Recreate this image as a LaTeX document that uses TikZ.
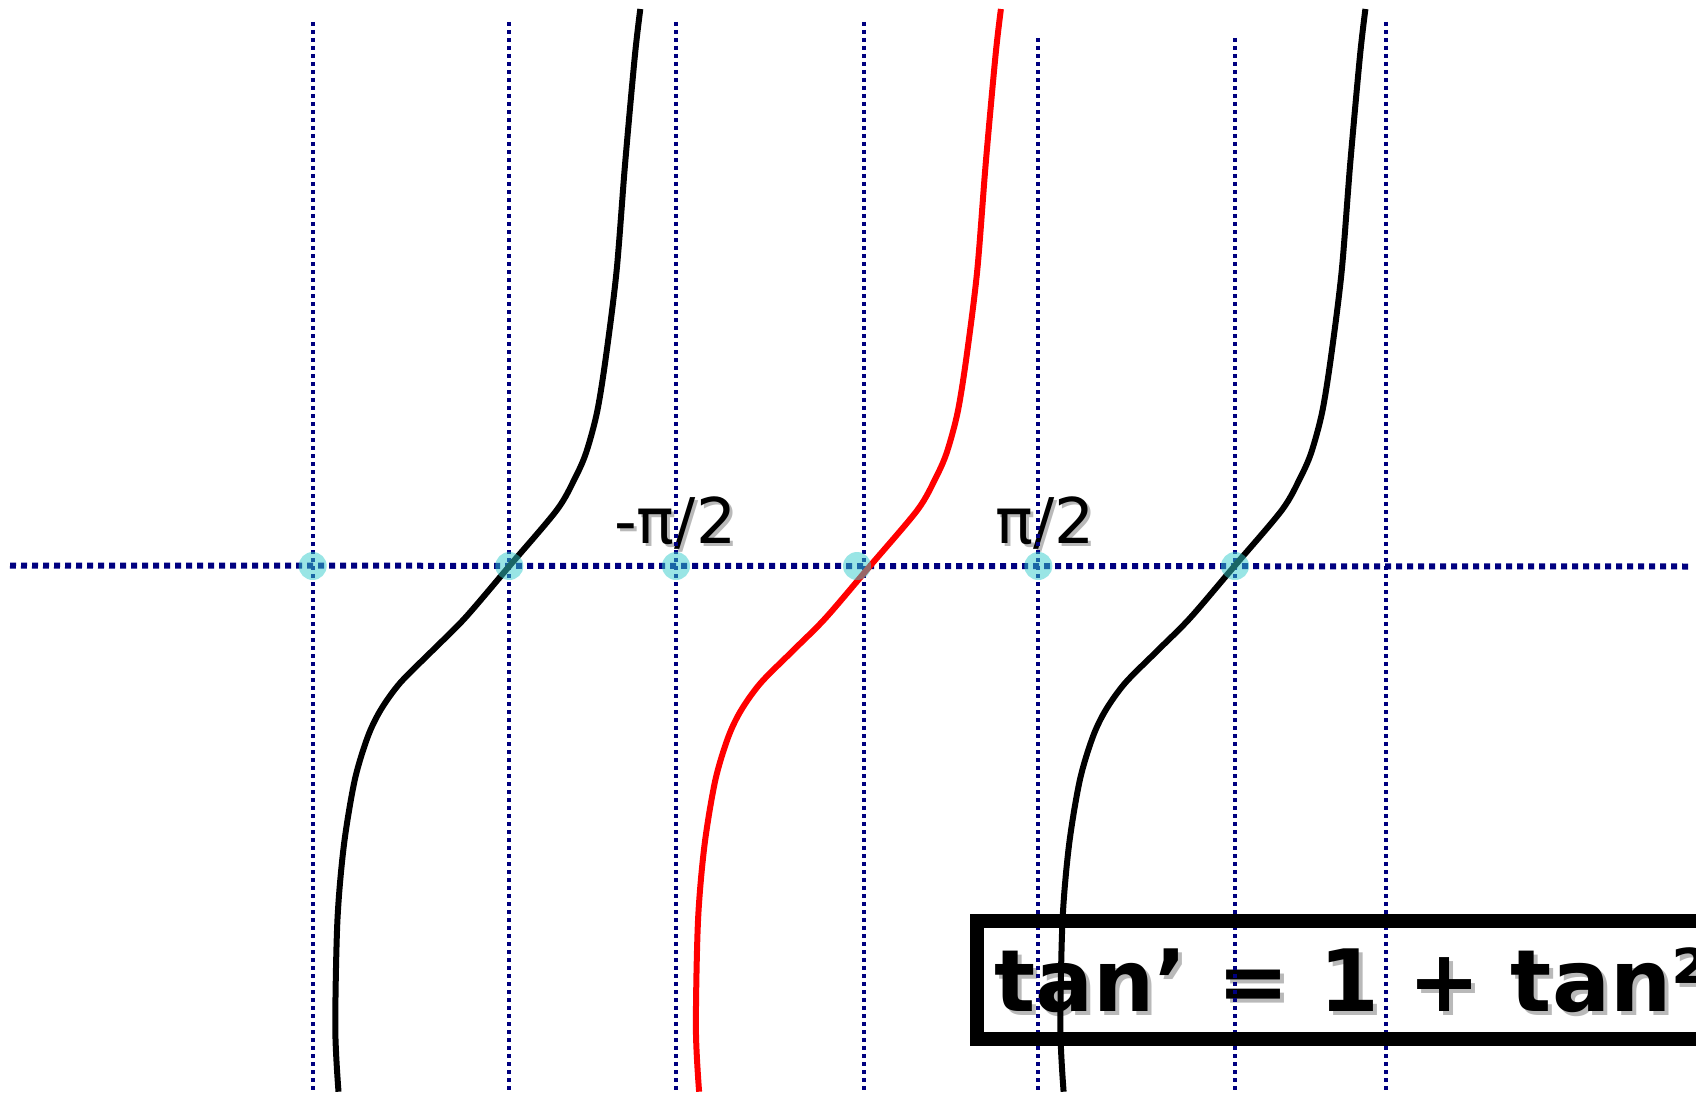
\documentclass[tikz,border=0pt]{standalone}
\usepackage{fontspec}
\newfontfamily\dvsans{DejaVu Sans}
\newfontfamily\dvbold{DejaVu Sans Bold}
\definecolor{dotblue}{RGB}{0,0,128}
\definecolor{ptcyan}{RGB}{52,204,204}
\definecolor{shadowgray}{RGB}{185,185,185}
\begin{document}
\begin{tikzpicture}[x=1pt,y=-1pt,
  vline/.style={dotblue,line width=4pt,dash pattern=on 4pt off 4pt},
  hline/.style={dotblue,line width=6pt,dash pattern=on 6pt off 5pt},
  zeropt/.style={circle,fill=ptcyan,fill opacity=0.5,draw=none,minimum size=28pt,inner sep=0pt},
  lbl/.style={inner sep=0pt,anchor=base west,font=\dvsans\fontsize{63}{70}\selectfont},
  boxtxt/.style={inner sep=0pt,anchor=base west,font=\dvbold\fontsize{86}{96}\selectfont},
  tancurve/.pic={\draw[line width=6pt] plot[smooth,tension=0.5] coordinates {
    (-170.9,525.7) (-174.1,462.9) (-172.0,354.8) (-165.5,279.1) (-154.7,214.2)
    (-141.7,170.9) (-128.7,143.9) (-109.2,116.8) (-76.8,84.4) (-44.3,51.9)
    (0,0) (47.6,-56.2) (66.0,-88.7) (76.8,-113.6) (87.6,-153.6) (96.3,-207.7)
    (107.1,-294.2) (115.7,-402.4) (125.5,-510.5) (130.9,-557.0)};}
]
\useasboundingbox (0,0) rectangle (1696,1094);
\clip (0,0) rectangle (1696,1094);
% labels and box text (under the lines)
\node[lbl,text=shadowgray] (mshadow) at (617,546) {-π/2};
\node[lbl] (mlabel) at (614,543) {-π/2};
\node[lbl,text=shadowgray] (pshadow) at (998,546) {π/2};
\node[lbl] (plabel) at (995,543) {π/2};
\node[boxtxt,text=shadowgray] (fshadow) at (998,1015) {tan’ = 1 + tan²};
\node[boxtxt] (formula) at (994,1011) {tan’ = 1 + tan²};
% vertical dotted lines
\foreach \x/\t [count=\i] in {312.7/22,509.4/22,676/22,864.3/22,1038.4/38,1235/38,1386/22}{
  \coordinate (vt\i) at (\x,\t);
  \coordinate (vb\i) at (\x,1092);
  \draw[vline] (vt\i) -- (vb\i);
}
% horizontal dotted line
\coordinate (hl) at (10,565.5);
\coordinate (hr) at (1692,566.5);
\draw[hline] (hl) -- (hr);
% tangent branches
\pic[black] at (509.4,566) {tancurve};
\pic[red] at (870,566) {tancurve};
\pic[black] at (1234.5,566) {tancurve};
% zero points
\foreach \x [count=\i] in {312.7,509.3,676,857,1038.3,1235}{
  \node[zeropt] (z\i) at (\x,566) {};
}
% formula frame
\draw[line width=14pt] (977,921) rectangle (1730,1039);
\end{tikzpicture}
\end{document}
